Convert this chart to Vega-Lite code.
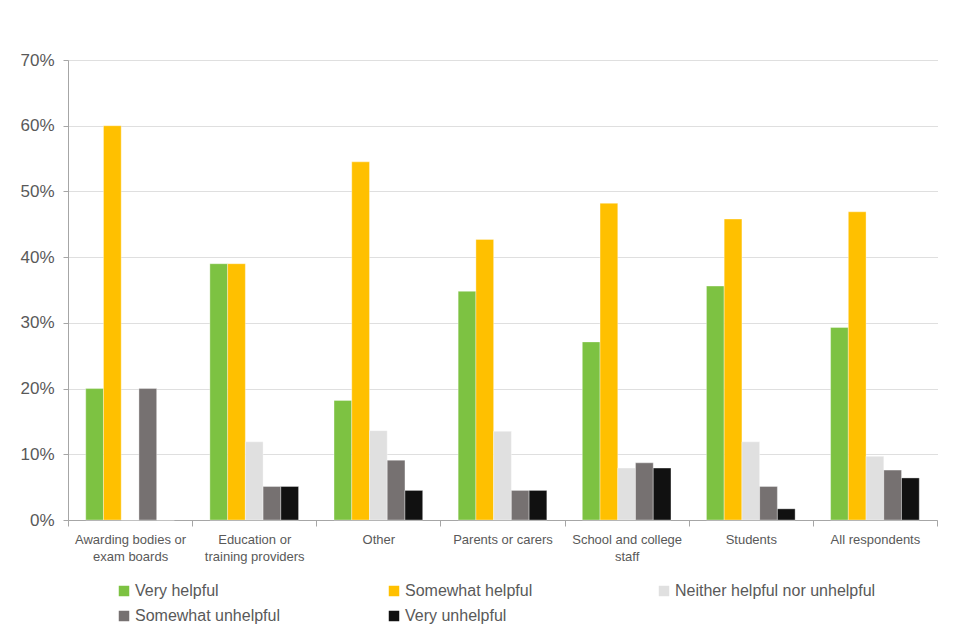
{
  "$schema": "https://vega.github.io/schema/vega-lite/v6.json",
  "autosize": {"type": "none"},
  "padding": {"left": 68, "top": 60, "right": 23, "bottom": 120},
  "width": 869,
  "height": 460,
  "background": "white",
  "config": {
    "view": {"stroke": null},
    "font": "Liberation Sans",
    "axis": {"labelColor": "#595959", "domainColor": "#a6a6a6", "tickColor": "#a6a6a6", "titleColor": "#595959"}
  },
  "data": {
    "values": [
      {"group": "Awarding bodies or exam boards", "response": "Very helpful", "value": 20},
      {"group": "Awarding bodies or exam boards", "response": "Somewhat helpful", "value": 60},
      {"group": "Awarding bodies or exam boards", "response": "Neither helpful nor unhelpful", "value": 0},
      {"group": "Awarding bodies or exam boards", "response": "Somewhat unhelpful", "value": 20},
      {"group": "Awarding bodies or exam boards", "response": "Very unhelpful", "value": 0},
      {"group": "Education or training providers", "response": "Very helpful", "value": 39},
      {"group": "Education or training providers", "response": "Somewhat helpful", "value": 39},
      {"group": "Education or training providers", "response": "Neither helpful nor unhelpful", "value": 11.9},
      {"group": "Education or training providers", "response": "Somewhat unhelpful", "value": 5.1},
      {"group": "Education or training providers", "response": "Very unhelpful", "value": 5.1},
      {"group": "Other", "response": "Very helpful", "value": 18.2},
      {"group": "Other", "response": "Somewhat helpful", "value": 54.5},
      {"group": "Other", "response": "Neither helpful nor unhelpful", "value": 13.6},
      {"group": "Other", "response": "Somewhat unhelpful", "value": 9.1},
      {"group": "Other", "response": "Very unhelpful", "value": 4.5},
      {"group": "Parents or carers", "response": "Very helpful", "value": 34.8},
      {"group": "Parents or carers", "response": "Somewhat helpful", "value": 42.7},
      {"group": "Parents or carers", "response": "Neither helpful nor unhelpful", "value": 13.5},
      {"group": "Parents or carers", "response": "Somewhat unhelpful", "value": 4.5},
      {"group": "Parents or carers", "response": "Very unhelpful", "value": 4.5},
      {"group": "School and college staff", "response": "Very helpful", "value": 27.1},
      {"group": "School and college staff", "response": "Somewhat helpful", "value": 48.2},
      {"group": "School and college staff", "response": "Neither helpful nor unhelpful", "value": 7.9},
      {"group": "School and college staff", "response": "Somewhat unhelpful", "value": 8.7},
      {"group": "School and college staff", "response": "Very unhelpful", "value": 7.9},
      {"group": "Students", "response": "Very helpful", "value": 35.6},
      {"group": "Students", "response": "Somewhat helpful", "value": 45.8},
      {"group": "Students", "response": "Neither helpful nor unhelpful", "value": 11.9},
      {"group": "Students", "response": "Somewhat unhelpful", "value": 5.1},
      {"group": "Students", "response": "Very unhelpful", "value": 1.7},
      {"group": "All respondents", "response": "Very helpful", "value": 29.3},
      {"group": "All respondents", "response": "Somewhat helpful", "value": 46.9},
      {"group": "All respondents", "response": "Neither helpful nor unhelpful", "value": 9.7},
      {"group": "All respondents", "response": "Somewhat unhelpful", "value": 7.6},
      {"group": "All respondents", "response": "Very unhelpful", "value": 6.4}
    ]
  },
  "mark": {"type": "bar", "stroke": "#ffffff", "strokeOpacity": 0.35, "strokeWidth": 1},
  "encoding": {
    "x": {
      "field": "group",
      "type": "nominal",
      "sort": null,
      "scale": {"paddingInner": 0, "paddingOuter": 0},
      "axis": {
        "title": null,
        "labelAngle": 0,
        "labelFontSize": 13,
        "labelPadding": 7,
        "labelLineHeight": 17,
        "tickBand": "extent",
        "tickSize": 6,
        "labelLimit": 200,
        "labelExpr": "datum.label == 'Awarding bodies or exam boards' ? ['Awarding bodies or', 'exam boards'] : datum.label == 'Education or training providers' ? ['Education or', 'training providers'] : datum.label == 'School and college staff' ? ['School and college', 'staff'] : datum.label"
      }
    },
    "xOffset": {
      "field": "response",
      "type": "nominal",
      "sort": ["Very helpful", "Somewhat helpful", "Neither helpful nor unhelpful", "Somewhat unhelpful", "Very unhelpful"],
      "scale": {"paddingInner": 0, "paddingOuter": 1.2}
    },
    "y": {
      "field": "value",
      "type": "quantitative",
      "scale": {"domain": [0, 70]},
      "axis": {
        "title": null,
        "values": [0, 10, 20, 30, 40, 50, 60, 70],
        "labelExpr": "datum.value + '%'",
        "labelFontSize": 17,
        "labelPadding": 9,
        "tickSize": 5,
        "gridDash": [1, 1],
        "gridColor": "#bfbfbf",
        "gridWidth": 1
      }
    },
    "color": {
      "field": "response",
      "type": "nominal",
      "sort": ["Very helpful", "Somewhat helpful", "Neither helpful nor unhelpful", "Somewhat unhelpful", "Very unhelpful"],
      "scale": {
        "domain": ["Very helpful", "Somewhat helpful", "Neither helpful nor unhelpful", "Somewhat unhelpful", "Very unhelpful"],
        "range": ["#7dc242", "#ffc000", "#e0e0e0", "#767171", "#111111"]
      },
      "legend": {
        "title": null,
        "orient": "none",
        "legendX": 48,
        "legendY": 523,
        "direction": "horizontal",
        "columns": 3,
        "gridAlign": "all",
        "columnPadding": 50,
        "rowPadding": 9,
        "symbolType": "square",
        "symbolSize": 110,
        "symbolStrokeWidth": 0,
        "labelFontSize": 16,
        "labelColor": "#595959",
        "labelOffset": 3,
        "labelLimit": 300
      }
    }
  }
}
